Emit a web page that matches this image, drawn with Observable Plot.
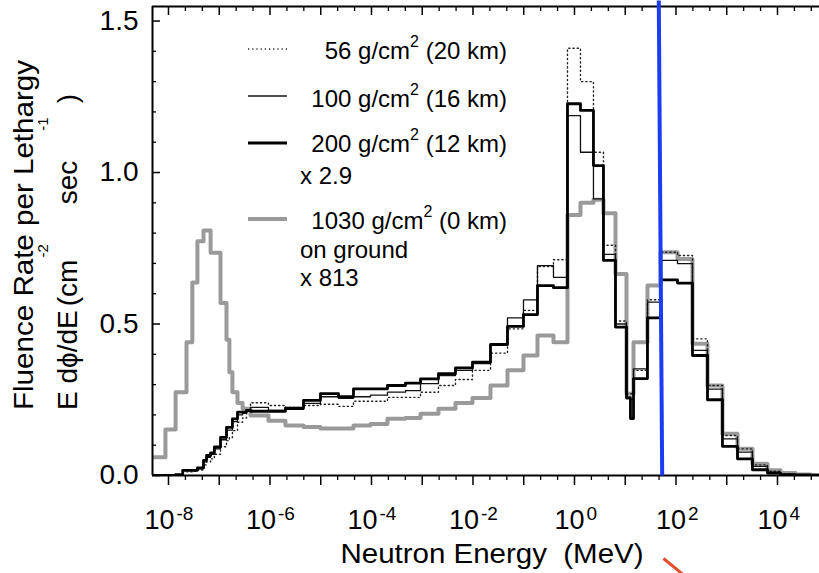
<!DOCTYPE html>
<html>
<head>
<meta charset="utf-8">
<script src="https://cdn.jsdelivr.net/npm/d3@7"></script>
<script src="https://cdn.jsdelivr.net/npm/@observablehq/plot@0.6"></script>
<style>
  html, body { margin: 0; padding: 0; background: #fff; }
  #chart svg { display: block; }
  svg text { white-space: pre; }
</style>
</head>
<body>
<div id="chart"></div>
<script>
// ---- data ----
// bin edges, log10(E / MeV)
const logEdges = [-8.315, -8.06, -7.86, -7.72, -7.645, -7.53, -7.43, -7.31, -7.25, -7.17,
  -7.095, -6.975, -6.857, -6.8, -6.74, -6.64, -6.54, -6.463, -6.384, -6.03,
  -5.695, -5.34, -5.005, -4.65, -4.355, -4.02, -3.685, -3.33, -3.034, -2.68,
  -2.345, -2.01, -1.655, -1.32, -1.005, -0.729, -0.414, -0.138, 0.118, 0.374,
  0.571, 0.808, 1.025, 1.103, 1.163, 1.438, 1.695, 2.03, 2.325, 2.621,
  2.916, 3.212, 3.507, 3.803, 4.059, 4.355, 4.65, 4.946];

// 1030 g/cm2 (0 km) on ground x 813
const flux1030 = [0.06, 0.152, 0.275, 0.275, 0.44, 0.637, 0.773, 0.809, 0.809, 0.735,
  0.735, 0.569, 0.448, 0.341, 0.275, 0.239, 0.22, 0.22, 0.198, 0.181,
  0.165, 0.16, 0.155, 0.155, 0.165, 0.17, 0.187, 0.19, 0.204, 0.22,
  0.239, 0.256, 0.297, 0.347, 0.396, 0.462, 0.44, 0.86, 0.9, 0.91,
  0.866, 0.665, 0.27, 0.27, 0.44, 0.627, 0.737, 0.715, 0.435, 0.297,
  0.138, 0.088, 0.039, 0.017, 0.008, 0.003, 0.001];
// 200 g/cm2 (12 km) x 2.9
const flux200 = [0, 0, 0.003, 0.017, 0.017, 0.017, 0.025, 0.05, 0.066, 0.075,
  0.094, 0.126, 0.159, 0.159, 0.187, 0.209, 0.209, 0.215, 0.212, 0.212,
  0.222, 0.248, 0.27, 0.26, 0.286, 0.286, 0.297, 0.305, 0.319, 0.336,
  0.355, 0.374, 0.432, 0.492, 0.531, 0.627, 0.62, 1.227, 1.205, 1.023,
  0.71, 0.49, 0.257, 0.188, 0.32, 0.52, 0.646, 0.635, 0.396, 0.25,
  0.096, 0.055, 0.019, 0.008, 0.003, 0.002, 0.001];
// 100 g/cm2 (16 km)
const flux100 = [0, 0, 0.003, 0.017, 0.017, 0.017, 0.022, 0.045, 0.06, 0.07,
  0.088, 0.118, 0.15, 0.15, 0.178, 0.2, 0.205, 0.212, 0.225, 0.215,
  0.218, 0.238, 0.26, 0.255, 0.26, 0.265, 0.275, 0.28, 0.303, 0.33,
  0.347, 0.369, 0.435, 0.52, 0.58, 0.693, 0.654, 1.188, 1.067, 0.913,
  0.73, 0.5, 0.253, 0.25, 0.352, 0.572, 0.71, 0.699, 0.413, 0.285,
  0.121, 0.077, 0.03, 0.011, 0.004, 0.002, 0.001];
// 56 g/cm2 (20 km)
const flux56 = [0, 0, 0.002, 0.012, 0.012, 0.014, 0.018, 0.035, 0.045, 0.055,
  0.07, 0.095, 0.115, 0.125, 0.148, 0.176, 0.19, 0.215, 0.24, 0.231,
  0.225, 0.231, 0.235, 0.228, 0.245, 0.245, 0.258, 0.258, 0.275, 0.297,
  0.317, 0.347, 0.404, 0.484, 0.545, 0.69, 0.712, 1.41, 1.30, 1.067,
  0.76, 0.51, 0.27, 0.27, 0.347, 0.58, 0.737, 0.726, 0.451, 0.297,
  0.132, 0.088, 0.035, 0.014, 0.005, 0.002, 0.001];

const xLabelExponents = [-8, -6, -4, -2, 0, 2, 4];
const yLabelValues = [0, 0.5, 1.0, 1.5];
const xDomainLog = [-8.315, 4.828];
const yDomain = [0, 1.548];
const xTitle = "Neutron Energy  (MeV)";
const yTitleLine1 = "Fluence Rate per Lethargy";
const legendDepths = ["56", "100", "200", "1030"];
const legendAltitudes = ["20", "16", "12", "0"];
const legendExtra = [[], [], ["x 2.9"], ["on ground", "x 813"]];
// annotation strokes over the picture
const blueLineLogE = [1.661, 1.728];
const blueLineValue = [1.568, 0];
const redLineLogE = [1.754, 2.207];
const redLineValue = [-0.274, -0.336];

// ---- build ----
const FONT = "'Liberation Sans', Arial, Helvetica, sans-serif";
const W = 819, H = 573, mL = 152, mT = 6, mB = 98, mR = 0;
const frameH = H - mT - mB, frameW = W - mL - mR;

const stepRows = vals => logEdges.map((le, i) => ({E: 10 ** le, v: vals[Math.min(i, vals.length - 1)]}));

const decades = d3.range(-8, 5).map(k => 10 ** k);
const thirds = d3.range(-24, 15).filter(k => k % 3 !== 0).map(k => 10 ** (k / 3))
  .filter(v => Math.log10(v) > xDomainLog[0] && Math.log10(v) < xDomainLog[1]);
const yMinor = d3.range(1, 16).filter(i => i % 5 !== 0).map(i => i / 10);

const negExp = xLabelExponents.filter(e => e < 0);
const posExp = xLabelExponents.filter(e => e >= 0);

const chart = Plot.plot({
  width: W, height: H,
  marginLeft: mL, marginTop: mT, marginBottom: mB, marginRight: mR,
  style: {fontFamily: FONT, background: "white", overflow: "visible", color: "black"},
  x: {type: "log", domain: [10 ** xDomainLog[0], 10 ** xDomainLog[1]], axis: null},
  y: {domain: yDomain, axis: null},
  marks: [
    // histograms
    Plot.line(stepRows(flux1030), {x: "E", y: "v", curve: "step-after", stroke: "#9a9a9a", strokeWidth: 4, clip: true}),
    Plot.line(stepRows(flux56), {x: "E", y: "v", curve: "step-after", stroke: "#222", strokeWidth: 1.4, strokeDasharray: "1.2,3", clip: true}),
    Plot.line(stepRows(flux100), {x: "E", y: "v", curve: "step-after", stroke: "#111", strokeWidth: 1.3, clip: true}),
    Plot.line(stepRows(flux200), {x: "E", y: "v", curve: "step-after", stroke: "#000", strokeWidth: 2.8, clip: true}),
    // frame lines
    Plot.ruleY([0], {stroke: "black", strokeWidth: 2}),
    Plot.ruleY([yDomain[1]], {stroke: "black", strokeWidth: 2}),
    Plot.ruleX([10 ** xDomainLog[0]], {stroke: "black", strokeWidth: 2}),
    // bottom ticks (outward)
    Plot.ruleX(decades, {x: d => d, insetTop: frameH, insetBottom: -10, stroke: "black", strokeWidth: 1.5}),
    Plot.ruleX(thirds, {x: d => d, insetTop: frameH, insetBottom: -5, stroke: "black", strokeWidth: 1.3}),
    // top ticks (inward)
    Plot.ruleX(decades, {x: d => d, insetBottom: frameH - 9, stroke: "black", strokeWidth: 1.5}),
    Plot.ruleX(thirds, {x: d => d, insetBottom: frameH - 5, stroke: "black", strokeWidth: 1.3}),
    // left ticks (inward)
    Plot.ruleY(yLabelValues, {y: d => d, insetRight: frameW - 8, stroke: "black", strokeWidth: 1.5}),
    Plot.ruleY(yMinor, {y: d => d, insetRight: frameW - 4, stroke: "black", strokeWidth: 1.3}),
    // y tick labels
    Plot.text(yLabelValues, {y: d => d, text: d => d.toFixed(1), frameAnchor: "left", textAnchor: "end", dx: -14, fontSize: 28, fill: "black"}),
    // x tick labels 10^n
    Plot.text(negExp, {x: e => 10 ** e, text: () => "10", frameAnchor: "bottom", textAnchor: "end", dx: 6, dy: 53, lineAnchor: "bottom", fontSize: 27, fill: "black"}),
    Plot.text(negExp, {x: e => 10 ** e, text: e => String(e), frameAnchor: "bottom", textAnchor: "start", dx: 8, dy: 44, lineAnchor: "bottom", fontSize: 19, fill: "black"}),
    Plot.text(posExp, {x: e => 10 ** e, text: () => "10", frameAnchor: "bottom", textAnchor: "end", dx: 10, dy: 53, lineAnchor: "bottom", fontSize: 27, fill: "black"}),
    Plot.text(posExp, {x: e => 10 ** e, text: e => String(e), frameAnchor: "bottom", textAnchor: "start", dx: 12, dy: 44, lineAnchor: "bottom", fontSize: 19, fill: "black"}),
    // x title
    Plot.text([xTitle], {text: d => d, frameAnchor: "bottom", dx: 6, dy: 87, lineAnchor: "bottom", fontSize: 27, fill: "black"}),
    // annotation strokes
    Plot.link([0], {x1: () => 10 ** blueLineLogE[0], y1: () => blueLineValue[0], x2: () => 10 ** blueLineLogE[1], y2: () => blueLineValue[1], stroke: "#1b3cf2", strokeWidth: 4}),
    Plot.link([0], {x1: () => 10 ** redLineLogE[0], y1: () => redLineValue[0], x2: () => 10 ** redLineLogE[1], y2: () => redLineValue[1], stroke: "#e0502e", strokeWidth: 3})
  ]
});

document.getElementById("chart").appendChild(chart);
const svg = d3.select(chart);

svg.selectAll("text").filter(function () { return this.textContent === xTitle; })
  .attr("textLength", 303).attr("lengthAdjust", "spacingAndGlyphs");

// y-axis title (two lines)
const yt = svg.append("g").attr("font-family", FONT).attr("fill", "black").attr("text-anchor", "start");
yt.append("text").attr("transform", "translate(33,235) rotate(-90)")
  .attr("text-anchor", "middle").attr("font-size", 28)
  .attr("textLength", 350).attr("lengthAdjust", "spacingAndGlyphs")
  .text(yTitleLine1);
// second line: starts at the bottom (y = 410) and reads upward
const t2 = yt.append("text").attr("transform", "translate(77,410) rotate(-90)")
  .attr("text-anchor", "start").attr("font-size", 28);
t2.append("tspan").text("E d\u03D5/dE");
t2.append("tspan").attr("dx", 4).text("(cm");
t2.append("tspan").attr("dx", 2).attr("dy", -29).attr("font-size", 15).text("-2");
t2.append("tspan").attr("dx", 40).attr("dy", 29).text("sec");
t2.append("tspan").attr("dx", 30).attr("dy", -29).attr("font-size", 15).text("-1");
t2.append("tspan").attr("dx", 14).attr("dy", 29).text(")");

// legend
const lg = svg.append("g").attr("font-family", FONT).attr("fill", "black").attr("font-size", 24).attr("text-anchor", "start");
const lineY = [49, 96, 143, 219];
const textBase = [59, 107, 152, 229];
const extraBase = [[], [], [184], [258, 286]];
const sampleStyles = [
  {stroke: "#222", width: 1.4, dash: "1.2,3"},
  {stroke: "#111", width: 1.3, dash: null},
  {stroke: "#000", width: 2.8, dash: null},
  {stroke: "#9a9a9a", width: 4, dash: null}
];
legendDepths.forEach((d, i) => {
  const s = sampleStyles[i];
  lg.append("line").attr("x1", 248).attr("x2", 287).attr("y1", lineY[i]).attr("y2", lineY[i])
    .attr("stroke", s.stroke).attr("stroke-width", s.width).attr("stroke-dasharray", s.dash);
  const t = lg.append("text").attr("x", 507).attr("y", textBase[i]).attr("text-anchor", "end");
  t.append("tspan").text(`${d} g/cm`);
  t.append("tspan").attr("dy", -12).attr("font-size", 16).text("2");
  t.append("tspan").attr("dy", 12).text(` (${legendAltitudes[i]} km)`);
  legendExtra[i].forEach((line, j) => {
    lg.append("text").attr("x", 300).attr("y", extraBase[i][j]).attr("text-anchor", "start").text(line);
  });
});
</script>
</body>
</html>
